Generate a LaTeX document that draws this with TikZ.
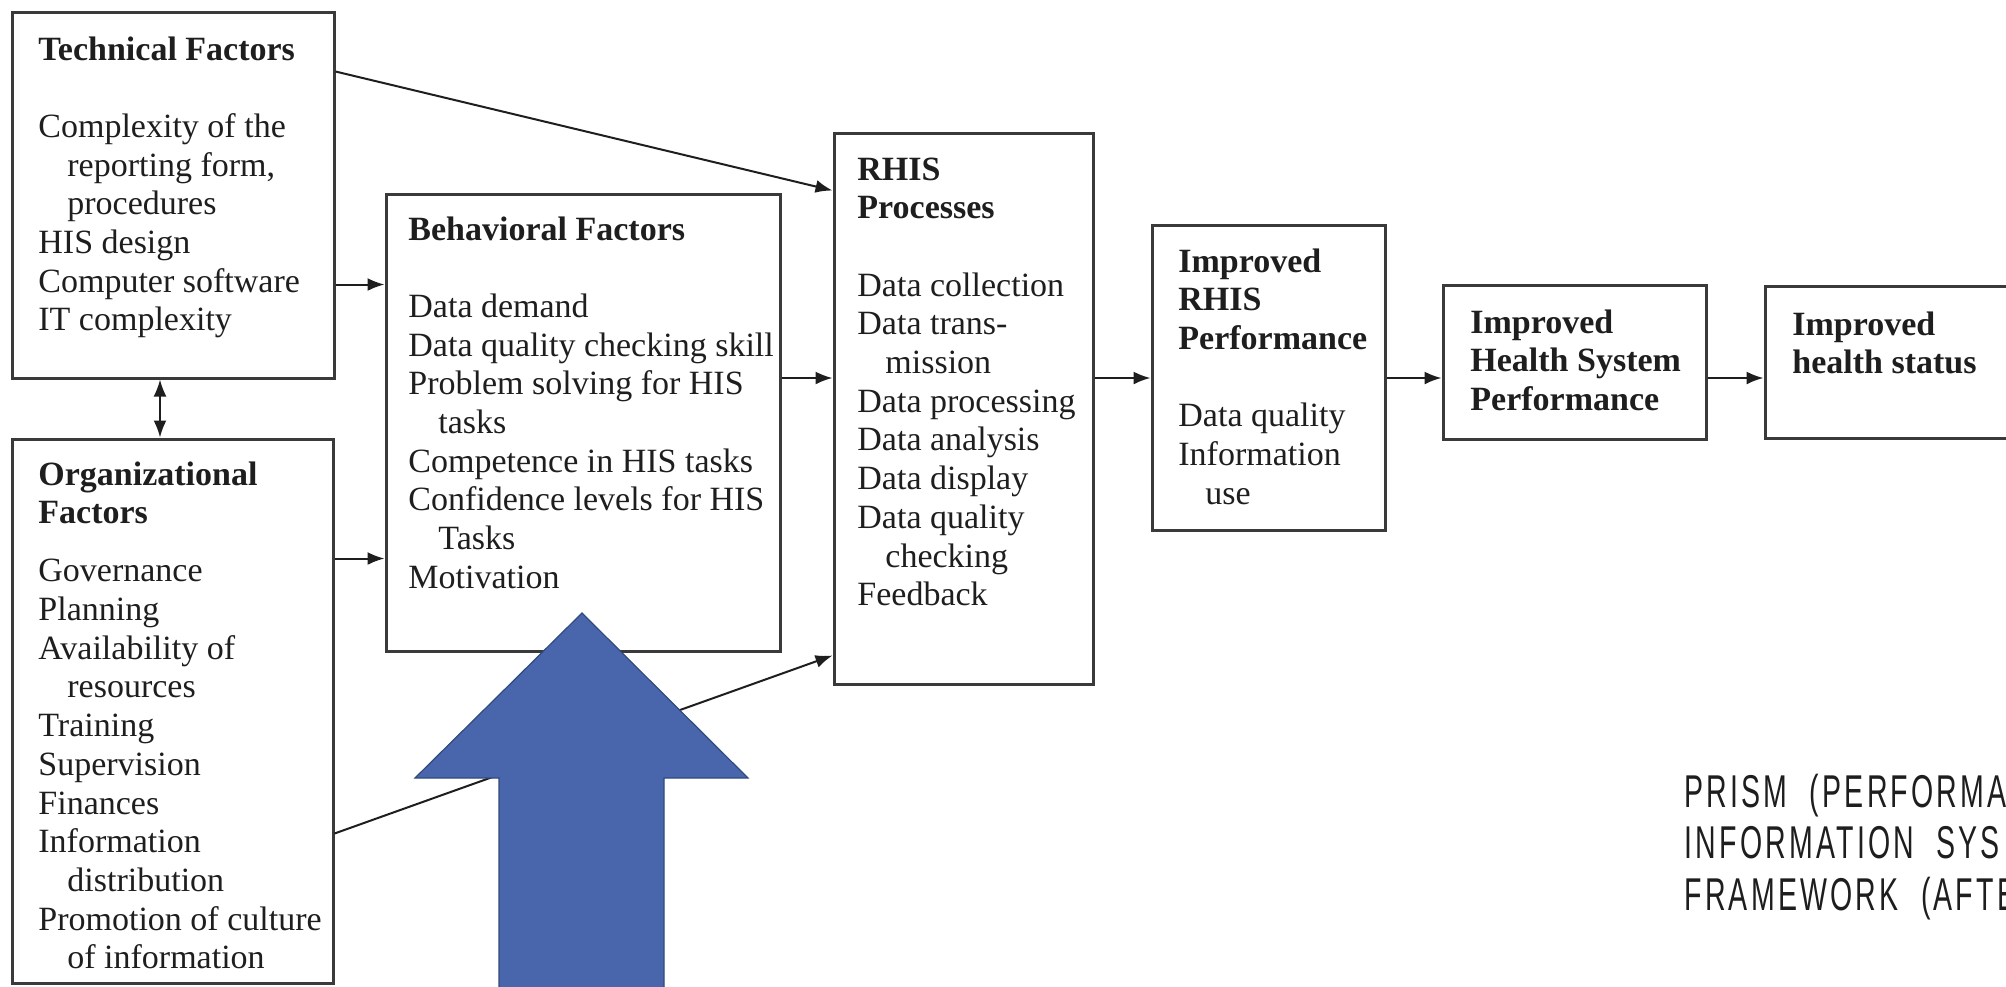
\documentclass[tikz,border=0pt]{standalone}
\usepackage{fontspec}
\setmainfont{Liberation Serif}
\newfontfamily\prismfont[FakeStretch=0.62,LetterSpace=7,WordSpace=2]{Liberation Sans}
\usetikzlibrary{arrows.meta,fit,calc}
\definecolor{boxline}{HTML}{3A3A3A}
\definecolor{arrowblue}{HTML}{4966AD}
\definecolor{arrowedge}{HTML}{2F4A7E}
\definecolor{ink}{HTML}{1E1E1E}
\begin{document}
\begin{tikzpicture}[x=0.5pt,y=-0.5pt,
  box/.style={draw=boxline, line width=1.5pt, inner sep=0pt},
  txt/.style={anchor=base west, inner sep=0pt, text=ink, font=\fontsize{17pt}{19.35pt}\selectfont},
  conn/.style={draw=ink, line width=1pt, -{Latex[length=8.5pt,width=6.5pt]}},
  dconn/.style={draw=ink, line width=1pt, {Latex[length=8.5pt,width=6.5pt]}-{Latex[length=8.5pt,width=6.5pt]}},
  prism/.style={anchor=base west, inner sep=0pt, text=ink, font=\prismfont\fontsize{23pt}{25.75pt}\selectfont},
  bigarrow/.style={fill=arrowblue, draw=arrowedge, line width=0.6pt, line join=miter}]
\useasboundingbox (0,0) rectangle (2006,986);
\clip (0,0) rectangle (2006,986);

% boxes
\node[box, fit={(12,12) (334,378)}] (tech) {};
\node[box, fit={(12,439) (333,983)}] (org) {};
\node[box, fit={(386,194) (780,651)}] (beh) {};
\node[box, fit={(834,133) (1093,684)}] (rhis) {};
\node[box, fit={(1152,225) (1385,530)}] (irp) {};
\node[box, fit={(1443,285) (1706,439)}] (ihsp) {};
\node[box, fit={(1765,286) (2100,438)}] (ihs) {};

% texts
\node[txt] (techT) at (38,60) {\parbox[t]{220pt}{\textbf{Technical Factors}\\[19.35pt]
Complexity of the\\
\hspace*{14.5pt}reporting form,\\
\hspace*{14.5pt}procedures\\
HIS design\\
Computer software\\
IT complexity}};

\node[txt] (orgT) at (38,485) {\parbox[t]{220pt}{\textbf{Organizational}\\
\textbf{Factors}\\[9.7pt]
Governance\\
Planning\\
Availability of\\
\hspace*{14.5pt}resources\\
Training\\
Supervision\\
Finances\\
Information\\
\hspace*{14.5pt}distribution\\
Promotion of culture\\
\hspace*{14.5pt}of information}};

\node[txt] (behT) at (408,240) {\parbox[t]{220pt}{\textbf{Behavioral Factors}\\[19.35pt]
Data demand\\
Data quality checking skill\\
Problem solving for HIS\\
\hspace*{15pt}tasks\\
Competence in HIS tasks\\
Confidence levels for HIS\\
\hspace*{15pt}Tasks\\
Motivation}};

\node[txt] (rhisT) at (857,180) {\parbox[t]{220pt}{\textbf{RHIS}\\
\textbf{Processes}\\[19.35pt]
Data collection\\
Data trans-\\
\hspace*{14pt}mission\\
Data processing\\
Data analysis\\
Data display\\
Data quality\\
\hspace*{14pt}checking\\
Feedback}};

\node[txt] (irpT) at (1178,272) {\parbox[t]{220pt}{\textbf{Improved}\\
\textbf{RHIS}\\
\textbf{Performance}\\[19.35pt]
Data quality\\
Information\\
\hspace*{13.5pt}use}};

\node[txt] (ihspT) at (1470,333) {\parbox[t]{220pt}{\textbf{Improved}\\
\textbf{Health System}\\
\textbf{Performance}}};

\node[txt] (ihsT) at (1792,335) {\parbox[t]{220pt}{\textbf{Improved}\\
\textbf{health status}}};

% connectors
\coordinate (row) at (0,378);
\coordinate (col) at (160,0);
\path ([yshift=-46pt]beh.north west) coordinate (b1);
\path ([yshift=-183pt]beh.north west) coordinate (b2);
\draw[conn] (tech.east |- b1) -- (b1);
\draw[conn] (org.east |- b2) -- (b2);
\draw[conn] ([yshift=-30.5pt]tech.north east) -- ([yshift=-29.5pt]rhis.north west);
\draw[conn] ([yshift=-198pt]org.north east) -- ([yshift=-262pt]rhis.north west);
\draw[conn] (beh.east |- row) -- (rhis.west |- row);
\draw[conn] (rhis.east |- row) -- (irp.west |- row);
\draw[conn] (irp.east |- row) -- (ihsp.west |- row);
\draw[conn] (ihsp.east |- row) -- (ihs.west |- row);
\draw[dconn] (col |- tech.south) -- (col |- org.north);

% big blue arrow
\path[bigarrow] (582,613) -- (748,778) -- (664,778) -- (664,1000) -- (499,1000) -- (499,778) -- (415,778) -- cycle;

% caption
\node[prism] (title) at (1684,807) {\parbox[t]{400pt}{PRISM (PERFORMA\\
INFORMATION SYS\\
FRAMEWORK (AFTE}};
\end{tikzpicture}
\end{document}
